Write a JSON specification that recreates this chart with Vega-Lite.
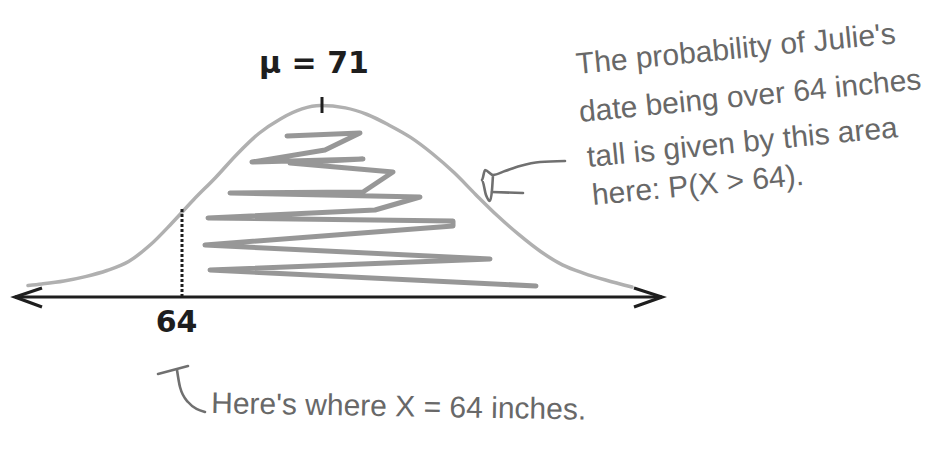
{
  "$schema": "https://vega.github.io/schema/vega-lite/v6.json",
  "width": 951,
  "height": 458,
  "autosize": {"type": "fit", "contains": "padding"},
  "padding": 0,
  "background": "white",
  "config": {"view": {"stroke": null}},
  "datasets": {
    "curve": [
      {"x": 56.3, "h": 11.5}, {"x": 56.99, "h": 13}, {"x": 58.1, "h": 16},
      {"x": 59.17, "h": 20.4}, {"x": 60.25, "h": 26.5}, {"x": 61.33, "h": 35.5},
      {"x": 62.42, "h": 52.2}, {"x": 63.5, "h": 74}, {"x": 64.59, "h": 97.5},
      {"x": 65.67, "h": 119.3}, {"x": 66.75, "h": 142.8}, {"x": 67.84, "h": 163.5},
      {"x": 68.92, "h": 178.1}, {"x": 70.0, "h": 188.1}, {"x": 70.92, "h": 191.5},
      {"x": 72.17, "h": 189.1}, {"x": 73.26, "h": 182.5}, {"x": 74.34, "h": 172},
      {"x": 75.43, "h": 159.6}, {"x": 76.51, "h": 143.5}, {"x": 77.6, "h": 124.4},
      {"x": 78.68, "h": 102.6}, {"x": 79.76, "h": 81.5}, {"x": 80.85, "h": 62.3},
      {"x": 81.93, "h": 45.5}, {"x": 83.02, "h": 32.1}, {"x": 84.1, "h": 23.7},
      {"x": 85.18, "h": 17}, {"x": 86.5, "h": 10}
    ],
    "scribble": [
      {"i": 1, "x": 69.25, "h": 161}, {"i": 2, "x": 72.9, "h": 164},
      {"i": 3, "x": 71.15, "h": 147}, {"i": 4, "x": 67.5, "h": 135},
      {"i": 5, "x": 73.05, "h": 138}, {"i": 6, "x": 69.4, "h": 134},
      {"i": 7, "x": 74.55, "h": 125}, {"i": 8, "x": 73.05, "h": 105},
      {"i": 9, "x": 66.4, "h": 104}, {"i": 10, "x": 75.9, "h": 100},
      {"i": 11, "x": 73.65, "h": 87}, {"i": 12, "x": 65.3, "h": 79},
      {"i": 13, "x": 77.55, "h": 76}, {"i": 14, "x": 77.55, "h": 71},
      {"i": 15, "x": 65.15, "h": 52}, {"i": 16, "x": 79.4, "h": 38},
      {"i": 17, "x": 65.4, "h": 27}, {"i": 18, "x": 81.7, "h": 11}
    ],
    "axisline": [
      {"seg": "line", "i": 1, "x": 55.65, "h": 0}, {"seg": "line", "i": 2, "x": 88.0, "h": 0},
      {"seg": "left", "i": 1, "x": 57.0, "h": 9}, {"seg": "left", "i": 2, "x": 55.65, "h": 0}, {"seg": "left", "i": 3, "x": 57.0, "h": -10},
      {"seg": "right", "i": 1, "x": 86.6, "h": 9}, {"seg": "right", "i": 2, "x": 88.0, "h": 0}, {"seg": "right", "i": 3, "x": 86.6, "h": -10}
    ],
    "pointer": [
      {"seg": "shaft", "i": 1, "x": 83.15, "h": 136}, {"seg": "shaft", "i": 2, "x": 81.9, "h": 135},
      {"seg": "shaft", "i": 3, "x": 80.9, "h": 131}, {"seg": "shaft", "i": 4, "x": 80.15, "h": 126},
      {"seg": "shaft", "i": 5, "x": 79.55, "h": 122}, {"seg": "shaft", "i": 6, "x": 79.15, "h": 127},
      {"seg": "shaft", "i": 7, "x": 79.0, "h": 117}, {"seg": "shaft", "i": 8, "x": 79.2, "h": 102},
      {"seg": "shaft", "i": 9, "x": 79.4, "h": 96}, {"seg": "shaft", "i": 10, "x": 79.5, "h": 107},
      {"seg": "shaft", "i": 11, "x": 79.55, "h": 122},
      {"seg": "lower", "i": 1, "x": 79.5, "h": 105}, {"seg": "lower", "i": 2, "x": 81.05, "h": 104},
      {"seg": "hook", "i": 1, "x": 65.15, "h": -115}, {"seg": "hook", "i": 2, "x": 64.3, "h": -105},
      {"seg": "hook", "i": 3, "x": 63.9, "h": -90}, {"seg": "hook", "i": 4, "x": 63.75, "h": -73},
      {"seg": "bar", "i": 1, "x": 62.8, "h": -77}, {"seg": "bar", "i": 2, "x": 64.3, "h": -69}
    ],
    "marks": [
      {"kind": "dotted", "x": 64, "h": 0, "h2": 89},
      {"kind": "tick", "x": 71, "h": 184, "h2": 200}
    ],
    "bold": [
      {"label": "μ = 71", "x": 70.6, "h": 223.7},
      {"label": "64", "x": 63.73, "h": -34.7}
    ],
    "note": [
      {"label": "The probability of Julie's", "x": 83.75, "h": 223},
      {"label": "date being over 64 inches", "x": 83.9, "h": 175},
      {"label": "tall is given by this area", "x": 84.3, "h": 130},
      {"label": "here: P(X > 64).", "x": 84.55, "h": 92}
    ],
    "note2": [
      {"label": "Here's where X = 64 inches.", "x": 65.45, "h": -116}
    ]
  },
  "encoding": {
    "x": {"field": "x", "type": "quantitative", "scale": {"domain": [54.9, 102.45], "nice": false, "zero": false}, "axis": null},
    "y": {"field": "h", "type": "quantitative", "scale": {"domain": [-161, 297], "nice": false, "zero": false}, "axis": null}
  },
  "layer": [
    {
      "data": {"name": "scribble"},
      "mark": {"type": "line", "color": "#858585", "strokeWidth": 5, "opacity": 0.85, "strokeJoin": "round", "strokeCap": "round"},
      "encoding": {"order": {"field": "i"}}
    },
    {
      "data": {"name": "curve"},
      "mark": {"type": "line", "color": "#b0b0b0", "strokeWidth": 3.5, "interpolate": "monotone", "strokeCap": "round"},
      "encoding": {}
    },
    {
      "data": {"name": "axisline"},
      "mark": {"type": "line", "color": "#1e1e1e", "strokeWidth": 3.2, "strokeJoin": "miter"},
      "encoding": {"detail": {"field": "seg"}, "order": {"field": "i"}}
    },
    {
      "data": {"name": "marks"},
      "transform": [{"filter": "datum.kind === 'dotted'"}],
      "mark": {"type": "rule", "color": "#1e1e1e", "strokeWidth": 3, "strokeDash": [3, 2]},
      "encoding": {"y2": {"field": "h2"}}
    },
    {
      "data": {"name": "marks"},
      "transform": [{"filter": "datum.kind === 'tick'"}],
      "mark": {"type": "rule", "color": "#1e1e1e", "strokeWidth": 3},
      "encoding": {"y2": {"field": "h2"}}
    },
    {
      "data": {"name": "pointer"},
      "mark": {"type": "line", "color": "#707070", "strokeWidth": 2.6, "strokeJoin": "round", "strokeCap": "round", "interpolate": "monotone"},
      "encoding": {"detail": {"field": "seg"}, "order": {"field": "i"}}
    },
    {
      "data": {"name": "bold"},
      "mark": {"type": "text", "font": "DejaVu Sans", "fontWeight": "bold", "fontSize": 30, "color": "#1e1e1e", "align": "center", "baseline": "alphabetic"},
      "encoding": {"text": {"field": "label"}}
    },
    {
      "data": {"name": "note"},
      "mark": {"type": "text", "font": "Liberation Sans", "fontSize": 30, "color": "#686868", "align": "left", "baseline": "alphabetic", "angle": -5.5},
      "encoding": {"text": {"field": "label"}}
    },
    {
      "data": {"name": "note2"},
      "mark": {"type": "text", "font": "Liberation Sans", "fontSize": 30, "color": "#686868", "align": "left", "baseline": "alphabetic", "angle": 1},
      "encoding": {"text": {"field": "label"}}
    }
  ]
}
